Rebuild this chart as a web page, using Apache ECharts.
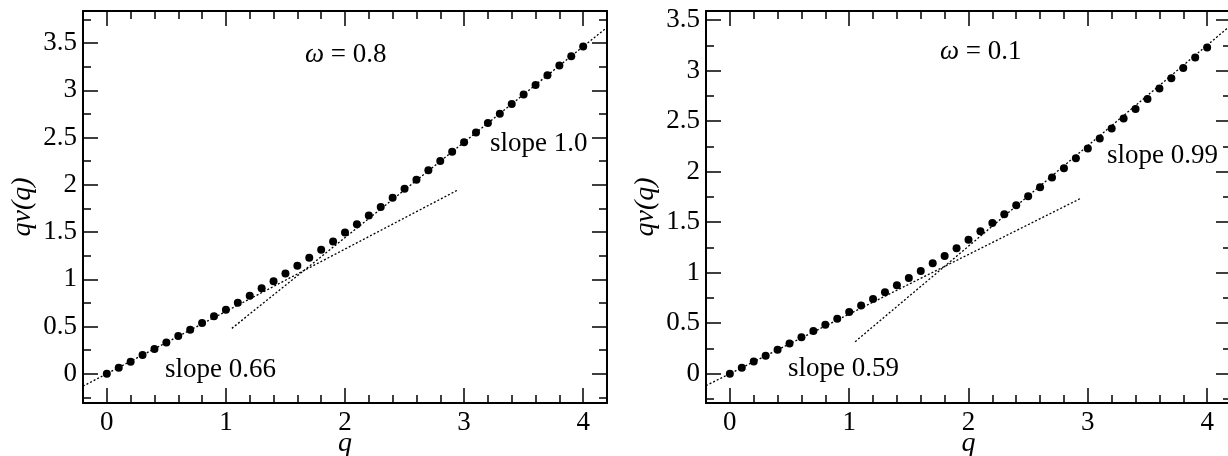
<!DOCTYPE html>
<html>
<head>
<meta charset="utf-8">
<script src="https://cdn.jsdelivr.net/npm/echarts@6/dist/echarts.min.js"></script>
<style>
html, body { margin: 0; background: #fff; }
#chart { width: 1228px; height: 456px; }
</style>
</head>
<body>
<div id="chart"></div>
<script>
// q grid of the dots
const qValues = [0, 0.1, 0.2, 0.3, 0.4, 0.5, 0.6, 0.7, 0.8, 0.9, 1, 1.1, 1.2, 1.3, 1.4, 1.5, 1.6, 1.7, 1.8, 1.9, 2,
  2.1, 2.2, 2.3, 2.4, 2.5, 2.6, 2.7, 2.8, 2.9, 3, 3.1, 3.2, 3.3, 3.4, 3.5, 3.6, 3.7, 3.8, 3.9, 4];

// qv(q), omega = 0.8 (left panel)
const qvOmega08 = [0, 0.064, 0.128, 0.197, 0.263, 0.33, 0.4, 0.465, 0.536, 0.608, 0.678, 0.752, 0.825, 0.904, 0.979,
  1.06, 1.142, 1.227, 1.313, 1.401, 1.494, 1.582, 1.674, 1.766, 1.862, 1.957, 2.053, 2.155, 2.252, 2.351, 2.451,
  2.553, 2.653, 2.752, 2.855, 2.957, 3.057, 3.16, 3.263, 3.362, 3.465];

// qv(q), omega = 0.1 (right panel)
const qvOmega01 = [0, 0.059, 0.122, 0.178, 0.238, 0.3, 0.36, 0.422, 0.485, 0.545, 0.61, 0.674, 0.739, 0.805, 0.875,
  0.947, 1.016, 1.093, 1.165, 1.241, 1.327, 1.41, 1.492, 1.578, 1.667, 1.756, 1.845, 1.942, 2.034, 2.133, 2.229,
  2.328, 2.427, 2.526, 2.621, 2.72, 2.823, 2.925, 3.027, 3.13, 3.229];

// fitted slopes, segment end points [q, qv]
const fitLow08 = [[-0.2, -0.132], [2.94, 1.94]];    // slope 0.66
const fitHigh08 = [[1.05, 0.48], [4.2, 3.665]];     // slope 1.0
const fitLow01 = [[-0.2, -0.118], [2.94, 1.735]];   // slope 0.59
const fitHigh01 = [[1.05, 0.317], [4.2, 3.45]];     // slope 0.99

// ticks
const xMajor = [0, 1, 2, 3, 4];
const xMinor = [0.2, 0.4, 0.6, 0.8, 1.2, 1.4, 1.6, 1.8, 2.2, 2.4, 2.6, 2.8, 3.2, 3.4, 3.6, 3.8];
const yMajor = [0, 0.5, 1, 1.5, 2, 2.5, 3, 3.5];
const yMinorLeft = [-0.25, 0.25, 0.75, 1.25, 1.75, 2.25, 2.75, 3.25, 3.75];
const yMinorRight = [-0.25, 0.25, 0.75, 1.25, 1.75, 2.25, 2.75, 3.25];

const FONT = '"Liberation Serif", "DejaVu Serif", serif';
const FS = 27;

function axisPair(dim, gridIndex, position, min, max, majors, minors, labels, name) {
  const major = {
    type: 'value', gridIndex: gridIndex, position: position, min: min, max: max,
    axisLine: { show: true, onZero: false, lineStyle: { color: '#000', width: 2 } },
    axisTick: { show: true, inside: true, length: 15, customValues: majors, lineStyle: { color: '#000', width: 1.5 } },
    axisLabel: { show: labels, customValues: majors, color: '#000', fontFamily: FONT, fontSize: FS, margin: 6 },
    splitLine: { show: false }
  };
  if (name) {
    major.name = name;
    major.nameLocation = 'middle';
    major.nameMoveOverlap = false;
    major.nameGap = dim === 'x' ? 27 : 46;
    major.nameTextStyle = { color: '#000', fontFamily: FONT, fontSize: 28, fontStyle: 'italic' };
  }
  const minor = {
    type: 'value', gridIndex: gridIndex, position: position, min: min, max: max,
    axisLine: { show: false, onZero: false },
    axisTick: { show: true, inside: true, length: 8, customValues: minors, lineStyle: { color: '#000', width: 1.5 } },
    axisLabel: { show: false, customValues: minors },
    splitLine: { show: false }
  };
  return [major, minor];
}

const xAxes = [].concat(
  axisPair('x', 0, 'bottom', -0.2, 4.2, xMajor, xMinor, true, 'q'),
  axisPair('x', 0, 'top', -0.2, 4.2, xMajor, xMinor, false),
  axisPair('x', 1, 'bottom', -0.2, 4.2, xMajor, xMinor, true, 'q'),
  axisPair('x', 1, 'top', -0.2, 4.2, xMajor, xMinor, false)
);
const yAxes = [].concat(
  axisPair('y', 0, 'left', -0.31, 3.84, yMajor, yMinorLeft, true, 'qv(q)'),
  axisPair('y', 0, 'right', -0.31, 3.84, yMajor, yMinorLeft, false),
  axisPair('y', 1, 'left', -0.29, 3.59, yMajor, yMinorRight, true, 'qv(q)'),
  axisPair('y', 1, 'right', -0.29, 3.59, yMajor, yMinorRight, false)
);

function zip(xs, ys) { return xs.map((x, i) => [x, ys[i]]); }

function dots(ax, data) {
  return { type: 'scatter', xAxisIndex: ax, yAxisIndex: ax, data: data, symbolSize: 8,
    itemStyle: { color: '#000', opacity: 1 }, z: 3 };
}
function fit(ax, data) {
  return { type: 'line', xAxisIndex: ax, yAxisIndex: ax, data: data, showSymbol: false,
    lineStyle: { color: '#000', width: 1.3, type: [2, 2] }, z: 2 };
}

function note(x, y, text) {
  return { type: 'text', x: x, y: y, style: {
    text: text, fill: '#000', fontFamily: FONT, fontSize: FS, verticalAlign: 'middle',
    rich: { i: { fontStyle: 'italic', fontFamily: FONT, fontSize: FS } }
  } };
}

const chart = echarts.init(document.getElementById('chart'));
chart.setOption({
  animation: false,
  backgroundColor: '#fff',
  textStyle: { fontFamily: FONT, color: '#000' },
  grid: [
    { left: 83, top: 11, width: 524, height: 392, containLabel: false, outerBoundsMode: 'none' },
    { left: 706, top: 11, width: 525, height: 392, containLabel: false, outerBoundsMode: 'none' }
  ],
  xAxis: xAxes,
  yAxis: yAxes,
  series: [
    fit(0, fitLow08), fit(0, fitHigh08), dots(0, zip(qValues, qvOmega08)),
    fit(4, fitLow01), fit(4, fitHigh01), dots(4, zip(qValues, qvOmega01))
  ],
  graphic: [
    note(305, 55, '{i|ω} = 0.8'),
    note(490, 144, 'slope 1.0'),
    note(165, 370, 'slope 0.66'),
    note(940, 52, '{i|ω} = 0.1'),
    note(1107, 156, 'slope 0.99'),
    note(788, 369, 'slope 0.59')
  ]
});
</script>
</body>
</html>
